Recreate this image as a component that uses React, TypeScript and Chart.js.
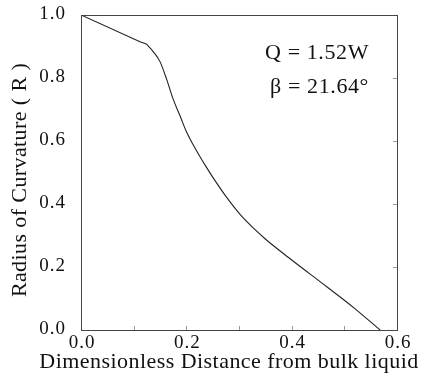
import React, { useEffect, useRef } from "react";
import { Chart, registerables } from "chart.js";

Chart.register(...registerables);

const distance = [0, 0.112, 0.124, 0.137, 0.150, 0.163, 0.175, 0.188, 0.200, 0.213, 0.226, 0.238, 0.251, 0.277, 0.302, 0.327, 0.350, 0.394, 0.466, 0.517, 0.568];
const radius = [1.0, 0.915, 0.908, 0.884, 0.852, 0.794, 0.733, 0.680, 0.630, 0.588, 0.550, 0.517, 0.483, 0.420, 0.367, 0.324, 0.289, 0.230, 0.138, 0.072, 0.0];
const kneeIndex = 2;
const xTicks = [0, 0.2, 0.4, 0.6];
const yTicks = [0, 0.2, 0.4, 0.6, 0.8, 1.0];
const xTitle = "Dimensionless Distance from bulk liquid";
const yTitle = "Radius of Curvature ( R )";
const noteLines = ["Q = 1.52W", "β = 21.64°"];

const FONT = "'Liberation Serif', 'DejaVu Serif', serif";

export default function App() {
  const ref = useRef<HTMLCanvasElement | null>(null);
  useEffect(() => {
    document.body.style.margin = "0";
    const canvas = ref.current!;
    const framePlugin = {
      id: "frame",
      afterDraw(chart: any) {
        const { ctx, chartArea: a, scales } = chart;
        const xs = scales.x;
        const ys = scales.y;
        ctx.save();
        ctx.strokeStyle = "#444";
        ctx.lineWidth = 1;
        ctx.strokeRect(a.left + 0.5, a.top + 0.5, a.right - a.left, a.bottom - a.top);
        // inward minor ticks
        ctx.strokeStyle = "#999";
        for (let v = 0.1; v < 0.6; v += 0.1) {
          const px = Math.round(xs.getPixelForValue(v)) + 0.5;
          ctx.beginPath();
          ctx.moveTo(px, a.bottom);
          ctx.lineTo(px, a.bottom - 4);
          ctx.stroke();
        }
        for (let v = 0.2; v < 1.0; v += 0.2) {
          const py = Math.round(ys.getPixelForValue(v)) + 0.5;
          ctx.beginPath();
          ctx.moveTo(a.right, py);
          ctx.lineTo(a.right - 4, py);
          ctx.stroke();
        }
        ctx.fillStyle = "#111";
        // tick labels
        ctx.font = `19px ${FONT}`;
        (ctx as any).letterSpacing = "1px";
        ctx.textBaseline = "middle";
        ctx.textAlign = "center";
        xTicks.forEach((v) => {
          ctx.fillText(v.toFixed(1), xs.getPixelForValue(v) + 1, a.bottom + 13);
        });
        ctx.textAlign = "right";
        yTicks.forEach((v) => {
          ctx.fillText(v.toFixed(1), 66, ys.getPixelForValue(v) - 1);
        });
        // titles
        ctx.font = `22px ${FONT}`;
        (ctx as any).letterSpacing = "0.45px";
        ctx.textAlign = "center";
        ctx.fillText(xTitle, 229, 362);
        ctx.save();
        ctx.translate(20, 180);
        ctx.rotate(-Math.PI / 2);
        (ctx as any).letterSpacing = "0.4px";
        ctx.fillText(yTitle, 0, 0);
        ctx.restore();
        // annotation
        ctx.font = `22px ${FONT}`;
        (ctx as any).letterSpacing = "0.6px";
        ctx.textAlign = "right";
        ctx.fillText(noteLines[0], 369, 53);
        ctx.fillText(noteLines[1], 369, 87);
        ctx.restore();
      },
    };
    const pts = distance.map((x, i) => ({ x, y: radius[i] }));
    const chart = new Chart(canvas, {
      type: "scatter",
      data: {
        datasets: [
          {
            data: pts.slice(0, kneeIndex + 1),
            showLine: true,
            borderColor: "#222",
            borderWidth: 1.1,
            pointRadius: 0,
            tension: 0,
          },
          {
            data: pts.slice(kneeIndex),
            showLine: true,
            borderColor: "#222",
            borderWidth: 1.1,
            pointRadius: 0,
            cubicInterpolationMode: "monotone",
          },
        ],
      },
      options: {
        animation: false,
        responsive: false,
        events: [],
        layout: { padding: { top: 15, right: 28, left: 0, bottom: 0 } },
        plugins: { legend: { display: false }, tooltip: { enabled: false } },
        scales: {
          x: {
            type: "linear",
            min: 0,
            max: 0.6,
            afterFit: (s: any) => {
              s.height = 54;
            },
            grid: { display: false, drawTicks: false },
            border: { display: false },
            ticks: { display: false },
          },
          y: {
            type: "linear",
            min: 0,
            max: 1,
            afterFit: (s: any) => {
              s.width = 81;
            },
            grid: { display: false, drawTicks: false },
            border: { display: false },
            ticks: { display: false },
          },
        },
      },
      plugins: [framePlugin],
    } as any);
    return () => chart.destroy();
  }, []);
  return <canvas ref={ref} width={425} height={384} style={{ display: "block" }} />;
}
